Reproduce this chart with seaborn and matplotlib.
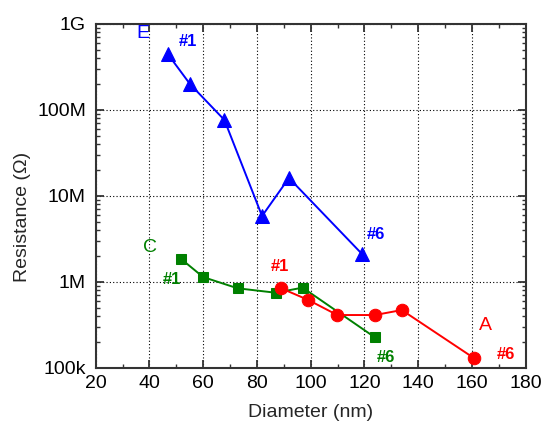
import seaborn as sns
import matplotlib.pyplot as plt
import matplotlib.ticker as mticker
import pandas as pd

# sample E (blue triangles)
e_diam = [46.8, 55.1, 67.9, 81.9, 91.9, 119.2]
e_res = [4.48e8, 2.0e8, 7.65e7, 5.85e6, 1.62e7, 2.1e6]

# sample C (green squares)
c_diam = [51.9, 60.0, 72.8, 87.0, 97.0, 123.9]
c_res = [1.84e6, 1.14e6, 8.45e5, 7.5e5, 8.6e5, 2.27e5]

# sample A (red circles)
a_diam = [89.0, 99.1, 109.9, 123.9, 133.9, 160.8]
a_res = [8.45e5, 6.18e5, 4.13e5, 4.13e5, 4.72e5, 1.30e5]

df = pd.concat([
    pd.DataFrame({"d": e_diam, "r": e_res, "s": "E"}),
    pd.DataFrame({"d": c_diam, "r": c_res, "s": "C"}),
    pd.DataFrame({"d": a_diam, "r": a_res, "s": "A"}),
])

sns.set_style("ticks")
plt.rcParams['font.family'] = ['Liberation Sans', 'DejaVu Sans']

fig = plt.figure(figsize=(5.44, 4.25), dpi=100)
ax = fig.add_axes([95.7 / 544, 1 - 368 / 425, 430 / 544, 344 / 425])

colors = {"E": "#0000ff", "C": "#008000", "A": "#ff0000"}
markers = {"E": "^", "C": "s", "A": "o"}
msize = {"E": 9.5, "C": 7.5, "A": 9}
for s in ["E", "C", "A"]:
    sub = df[df["s"] == s]
    sns.lineplot(data=sub, x="d", y="r", ax=ax, color=colors[s], marker=markers[s],
                 markersize=msize[s], markeredgecolor=colors[s], linewidth=1.4,
                 sort=False, estimator=None, legend=False)

ax.set_yscale("log")
ax.set_xlim(20, 180)
ax.set_ylim(1e5, 1e9)
ax.set_xticks(range(20, 181, 20))
ax.xaxis.set_minor_locator(mticker.MultipleLocator(10))
ax.set_yticks([1e5, 1e6, 1e7, 1e8, 1e9])
ax.set_yticklabels(["100k", "1M", "10M", "100M", "1G"])
ax.yaxis.set_minor_locator(mticker.LogLocator(base=10, subs=range(2, 10)))
ax.yaxis.set_minor_formatter(mticker.NullFormatter())

ax.grid(True, which="major", color="black", linestyle=(0, (1, 2)), linewidth=0.8)
ax.tick_params(which="both", direction="in", top=True, right=True, color="#333333")
ax.tick_params(which="major", length=6, width=1.3, labelsize=14, colors="#333333",
               labelcolor="black")
ax.tick_params(axis="y", which="major", pad=7)
ax.tick_params(axis="x", which="major", pad=5)
ax.tick_params(which="minor", length=3, width=1)
for sp in ax.spines.values():
    sp.set_linewidth(1.5)
    sp.set_color("#333333")

ax.set_xlabel("Diameter (nm)", fontsize=14)
ax.set_ylabel("Resistance (Ω)", fontsize=14)
ax.xaxis.set_label_coords(0.5, -0.105)
ax.yaxis.set_label_coords(-0.15, 0.44)

# annotations
ax.text(37.6, 7.66e8, "E", color=colors["E"], fontsize=14, ha="center", va="center")
ax.text(54.3, 6.18e8, "#1", color=colors["E"], fontsize=12, fontweight="bold", ha="center", va="center")
ax.text(124.2, 3.52e6, "#6", color=colors["E"], fontsize=12, fontweight="bold", ha="center", va="center")
ax.text(40.2, 2.55e6, "C", color=colors["C"], fontsize=14, ha="center", va="center")
ax.text(48.4, 1.08e6, "#1", color=colors["C"], fontsize=12, fontweight="bold", ha="center", va="center")
ax.text(88.6, 1.53e6, "#1", color=colors["A"], fontsize=12, fontweight="bold", ha="center", va="center")
ax.text(128.0, 1.34e5, "#6", color=colors["C"], fontsize=12, fontweight="bold", ha="center", va="center")
ax.text(164.9, 3.16e5, "A", color=colors["A"], fontsize=14, ha="center", va="center")
ax.text(172.6, 1.42e5, "#6", color=colors["A"], fontsize=12, fontweight="bold", ha="center", va="center")

fig.savefig("out.png", dpi=100)
